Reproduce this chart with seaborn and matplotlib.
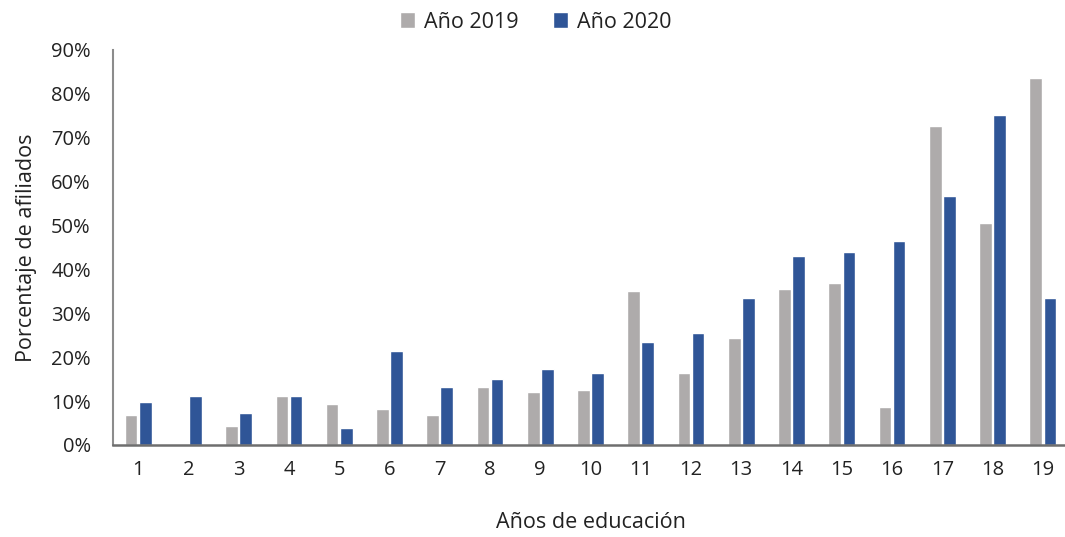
import matplotlib
matplotlib.use("Agg")
import matplotlib.pyplot as plt
import seaborn as sns
import pandas as pd
from matplotlib.ticker import PercentFormatter

categorias = [str(i) for i in range(1, 20)]
anio_2019 = [6.9, 0.0, 4.3, 11.2, 9.4, 8.1, 6.8, 13.3, 12.0, 12.6, 35.2, 16.5, 24.4, 35.5, 36.9, 8.6, 72.7, 50.5, 83.6]
anio_2020 = [9.9, 11.2, 7.4, 11.2, 3.8, 21.5, 13.3, 15.1, 17.3, 16.5, 23.4, 25.5, 33.4, 43.0, 43.9, 46.5, 56.7, 75.3, 33.5]
series = ["Año 2019", "Año 2020"]
colores = ["#AEABAB", "#2F5597"]

df = pd.DataFrame({
    "cat": categorias * 2,
    "val": anio_2019 + anio_2020,
    "serie": [series[0]] * len(categorias) + [series[1]] * len(categorias),
})

sns.set_style("white")
plt.rcParams["font.family"] = ["Open Sans", "DejaVu Sans"]

fig = plt.figure(figsize=(10.65, 5.37), dpi=100)
ax = fig.add_axes([113 / 1065, 1 - 445 / 537, (1068 - 113) / 1065, (445 - 50) / 537])

sns.barplot(data=df, x="cat", y="val", hue="serie", palette=colores,
            width=0.56, gap=0.1, order=categorias, hue_order=series, ax=ax,
            saturation=1, errorbar=None)

ax.set_ylim(0, 90)
ax.set_yticks(range(0, 91, 10))
ax.yaxis.set_major_formatter(PercentFormatter(decimals=0))
ax.set_xlim(-0.5, 18.5)
ax.tick_params(axis="both", length=0, labelsize=14.5, colors="#222222")
ax.tick_params(axis="x", pad=11)
ax.tick_params(axis="y", pad=16)

for s in ["top", "right"]:
    ax.spines[s].set_visible(False)
ax.spines["left"].set_color("#8C8C8C")
ax.spines["left"].set_linewidth(1.5)
ax.spines["bottom"].set_color("#6E6E6E")
ax.spines["bottom"].set_linewidth(1.8)

ax.set_xlabel("Años de educación", fontsize=15.5, color="#222222", labelpad=23)
ax.set_ylabel("Porcentaje de afiliados", fontsize=15.5, color="#222222", labelpad=10)

handles, labels = ax.get_legend_handles_labels()
ax.legend_.remove()
fig.legend(handles, labels, loc="center", bbox_to_anchor=(0.503, 1 - 22 / 537),
           ncol=2, frameon=False, fontsize=15.5, handlelength=0.7, handleheight=0.7,
           handletextpad=0.4, columnspacing=1.6, labelcolor="#222222")

fig.savefig("out.png", dpi=100)
